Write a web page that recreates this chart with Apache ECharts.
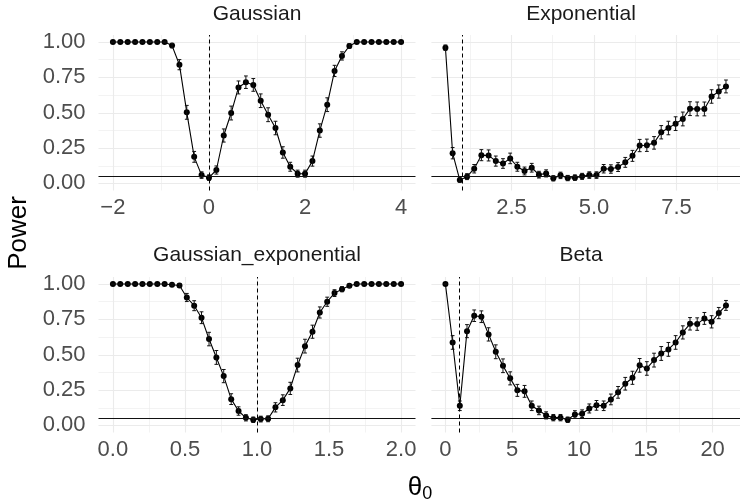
<!DOCTYPE html>
<html><head><meta charset="utf-8">
<script src="https://cdn.jsdelivr.net/npm/echarts@6/dist/echarts.min.js"></script>
<style>html,body{margin:0;padding:0;background:#fff}#c{width:740px;height:504px}</style>
</head><body><div id="c"></div><script>
// ---------- data ----------
const gaussianTheta = [-2, -1.846, -1.692, -1.538, -1.385, -1.231, -1.077, -0.923, -0.769, -0.615, -0.462, -0.308, -0.154, 0, 0.154, 0.308, 0.462, 0.615, 0.769, 0.923, 1.077, 1.231, 1.385, 1.538, 1.692, 1.846, 2, 2.154, 2.308, 2.462, 2.615, 2.769, 2.923, 3.077, 3.231, 3.385, 3.538, 3.692, 3.846, 4];
const gaussianPower = [1, 1, 1, 1, 1, 1, 1, 1, 0.975, 0.84, 0.503, 0.188, 0.059, 0.041, 0.095, 0.339, 0.498, 0.679, 0.716, 0.697, 0.585, 0.486, 0.392, 0.219, 0.118, 0.069, 0.069, 0.158, 0.374, 0.557, 0.796, 0.902, 0.972, 1, 1, 1, 1, 1, 1, 1];

const exponentialTheta = [0.5, 0.718, 0.936, 1.154, 1.372, 1.59, 1.808, 2.026, 2.244, 2.462, 2.679, 2.897, 3.115, 3.333, 3.551, 3.769, 3.987, 4.205, 4.423, 4.641, 4.859, 5.077, 5.295, 5.513, 5.731, 5.949, 6.167, 6.385, 6.603, 6.821, 7.038, 7.256, 7.474, 7.692, 7.91, 8.128, 8.346, 8.564, 8.782, 9];
const exponentialPower = [0.96, 0.214, 0.024, 0.048, 0.104, 0.2, 0.198, 0.158, 0.141, 0.177, 0.118, 0.088, 0.111, 0.062, 0.071, 0.036, 0.057, 0.038, 0.041, 0.05, 0.059, 0.059, 0.104, 0.102, 0.116, 0.149, 0.195, 0.268, 0.27, 0.287, 0.362, 0.392, 0.423, 0.456, 0.529, 0.527, 0.527, 0.615, 0.65, 0.686];

const gaussExpTheta = [0, 0.051, 0.103, 0.154, 0.205, 0.256, 0.308, 0.359, 0.41, 0.462, 0.513, 0.564, 0.615, 0.667, 0.718, 0.769, 0.821, 0.872, 0.923, 0.974, 1.026, 1.077, 1.128, 1.179, 1.231, 1.282, 1.333, 1.385, 1.436, 1.487, 1.538, 1.59, 1.641, 1.692, 1.744, 1.795, 1.846, 1.897, 1.949, 2];
const gaussExpPower = [1, 1, 1, 1, 1, 1, 1, 1, 0.995, 0.99, 0.905, 0.847, 0.762, 0.611, 0.481, 0.349, 0.186, 0.102, 0.054, 0.04, 0.045, 0.047, 0.128, 0.179, 0.262, 0.427, 0.561, 0.663, 0.799, 0.875, 0.936, 0.964, 0.988, 1, 1, 1, 1, 1, 1, 1];

const betaTheta = [0, 0.538, 1.077, 1.615, 2.154, 2.692, 3.231, 3.769, 4.308, 4.846, 5.385, 5.923, 6.462, 7, 7.538, 8.077, 8.615, 9.154, 9.692, 10.231, 10.769, 11.308, 11.846, 12.385, 12.923, 13.462, 14, 14.538, 15.077, 15.615, 16.154, 16.692, 17.231, 17.769, 18.308, 18.846, 19.385, 19.923, 20.462, 21];
const betaPower = [1, 0.587, 0.139, 0.667, 0.776, 0.769, 0.644, 0.521, 0.422, 0.333, 0.248, 0.241, 0.139, 0.106, 0.071, 0.055, 0.055, 0.04, 0.078, 0.083, 0.12, 0.142, 0.139, 0.184, 0.234, 0.295, 0.337, 0.425, 0.403, 0.462, 0.509, 0.538, 0.587, 0.658, 0.719, 0.717, 0.757, 0.733, 0.795, 0.849];

const panelTitles = ['Gaussian', 'Exponential', 'Gaussian_exponential', 'Beta'];
const trueTheta = [0, 1, 1, 1];
const alphaLevel = 0.05;
const nSim = 400;

const gaussianTicks = [-2, 0, 2, 4];        const gaussianMinor = [-1, 1, 3];
const exponentialTicks = [2.5, 5, 7.5];     const exponentialMinor = [1.25, 3.75, 6.25, 8.75];
const gaussExpTicks = [0, 0.5, 1, 1.5, 2];  const gaussExpMinor = [0.25, 0.75, 1.25, 1.75];
const betaTicks = [0, 5, 10, 15, 20];       const betaMinor = [2.5, 7.5, 12.5, 17.5];
const powerTicks = [0, 0.25, 0.5, 0.75, 1]; const powerMinor = [0.125, 0.375, 0.625, 0.875];

// ---------- layout / styles ----------
const FONT = '"Liberation Sans", Arial, Helvetica, sans-serif';
const GRID_COL = '#EBEBEB';
const minus = v => v < 0 ? '\u2212' + (-v) : String(v);
const panels = [
  {theta: gaussianTheta, power: gaussianPower, ticks: gaussianTicks, minor: gaussianMinor, fmt: minus,
   left: 98.5, top: 35, width: 317, xMin: -2.3, xMax: 4.3, yLabels: true, tx: 257, ty: 14},
  {theta: exponentialTheta, power: exponentialPower, ticks: exponentialTicks, minor: exponentialMinor, fmt: v => v.toFixed(1),
   left: 431.4, top: 35, width: 316, xMin: 0.075, xMax: 9.425, yLabels: false, tx: 581, ty: 14},
  {theta: gaussExpTheta, power: gaussExpPower, ticks: gaussExpTicks, minor: gaussExpMinor, fmt: v => v.toFixed(1),
   left: 98.5, top: 277, width: 317, xMin: -0.1, xMax: 2.1, yLabels: true, tx: 257, ty: 255},
  {theta: betaTheta, power: betaPower, ticks: betaTicks, minor: betaMinor, fmt: v => String(v),
   left: 431.4, top: 277, width: 316, xMin: -1.05, xMax: 22.05, yLabels: false, tx: 581, ty: 255}
];
const GRID_H = 155.5, Y_MIN = -0.05, Y_MAX = 1.05;

const grid = [], xAxis = [], yAxis = [], series = [], graphic = [];
panels.forEach((p, i) => {
  grid.push({left: p.left, top: p.top, width: p.width, height: GRID_H, containLabel: false});
  // major x
  xAxis.push({type: 'value', gridIndex: i, min: p.xMin, max: p.xMax, position: 'bottom',
    axisLine: {show: false}, axisTick: {show: false, customValues: p.ticks},
    axisLabel: {customValues: p.ticks, formatter: p.fmt, color: '#4D4D4D', fontSize: 22, fontFamily: FONT, margin: 6},
    splitLine: {show: true, lineStyle: {color: GRID_COL, width: 1.1}}});
  // minor x
  xAxis.push({type: 'value', gridIndex: i, min: p.xMin, max: p.xMax, position: 'top',
    axisLine: {show: false}, axisTick: {show: false, customValues: p.minor},
    axisLabel: {show: false, customValues: p.minor},
    splitLine: {show: true, lineStyle: {color: GRID_COL, width: 0.6}}});
  // major y
  yAxis.push({type: 'value', gridIndex: i, min: Y_MIN, max: Y_MAX, position: 'left',
    axisLine: {show: false}, axisTick: {show: false, customValues: powerTicks},
    axisLabel: {show: p.yLabels, customValues: powerTicks, formatter: v => v.toFixed(2), color: '#4D4D4D', fontSize: 22, fontFamily: FONT, margin: 13},
    splitLine: {show: true, lineStyle: {color: GRID_COL, width: 1.1}}});
  // minor y
  yAxis.push({type: 'value', gridIndex: i, min: Y_MIN, max: Y_MAX, position: 'right',
    axisLine: {show: false}, axisTick: {show: false, customValues: powerMinor},
    axisLabel: {show: false, customValues: powerMinor},
    splitLine: {show: true, lineStyle: {color: GRID_COL, width: 0.6}}});

  const pts = p.theta.map((t, k) => [t, p.power[k]]);
  const bars = p.theta.map((t, k) => {
    const v = p.power[k];
    const h = 1.96 * Math.sqrt(v * (1 - v) / nSim);
    return [t, v - h, v + h];
  });
  series.push({type: 'line', xAxisIndex: 2 * i, yAxisIndex: 2 * i, data: pts, z: 3,
    symbol: 'circle', symbolSize: 6, itemStyle: {color: '#000'},
    lineStyle: {color: '#000', width: 1.1}, animation: false, silent: true,
    markLine: {silent: true, symbol: ['none', 'none'], label: {show: false}, animation: false,
      data: [
        {yAxis: alphaLevel, lineStyle: {type: 'solid', color: '#111', width: 1}},
        {xAxis: trueTheta[i], lineStyle: {type: [4, 3], color: '#000', width: 1}}
      ]}});
  series.push({type: 'custom', xAxisIndex: 2 * i, yAxisIndex: 2 * i, data: bars, z: 4,
    animation: false, silent: true,
    renderItem: (params, api) => {
      const x = api.value(0), lo = api.value(1), hi = api.value(2);
      const a = api.coord([x, lo]), b = api.coord([x, hi]);
      const cw = 1.9, st = {stroke: '#111', lineWidth: 1};
      return {type: 'group', children: [
        {type: 'line', shape: {x1: a[0], y1: a[1], x2: b[0], y2: b[1]}, style: st},
        {type: 'line', shape: {x1: a[0] - cw, y1: a[1], x2: a[0] + cw, y2: a[1]}, style: st},
        {type: 'line', shape: {x1: b[0] - cw, y1: b[1], x2: b[0] + cw, y2: b[1]}, style: st}
      ]};
    }});
  graphic.push({type: 'text', x: p.tx, y: p.ty, silent: true,
    style: {text: panelTitles[i], font: '21px ' + FONT, fill: '#1A1A1A', align: 'center', verticalAlign: 'middle'}});
});

graphic.push({type: 'text', x: 19, y: 233, rotation: Math.PI / 2, silent: true,
  style: {text: 'Power', font: '26px ' + FONT, fill: '#000', align: 'center', verticalAlign: 'middle'}});
graphic.push({type: 'text', x: 420, y: 488, silent: true,
  style: {text: '{a|\u03B8}{b|0}', align: 'center', verticalAlign: 'middle', fill: '#000',
    rich: {a: {fontSize: 26, fontFamily: FONT, fill: '#000'}, b: {fontSize: 18, fontFamily: FONT, fill: '#000', padding: [12, 0, 0, 0]}}}});

const chart = echarts.init(document.getElementById('c'), null, {renderer: 'canvas'});
chart.setOption({animation: false, backgroundColor: '#fff', grid, xAxis, yAxis, series, graphic});
</script></body></html>
